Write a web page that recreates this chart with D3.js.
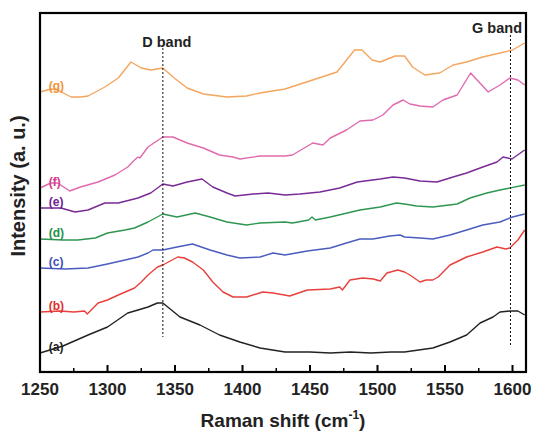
<!DOCTYPE html>
<html>
<head>
<meta charset="utf-8">
<script src="https://cdn.jsdelivr.net/npm/d3@7"></script>
<style>
  body { margin: 0; background: #fff; }
  text { font-family: "Liberation Sans", Arial, sans-serif; }
</style>
</head>
<body>
<div id="chart"></div>
<script>

// Raman spectra (a)-(g), stacked with offsets
var seriesNames = ["(a)", "(b)", "(c)", "(d)", "(e)", "(f)", "(g)"];
var seriesColors = ["#222222", "#e8403c", "#4a5cbf", "#2e9650", "#7a2a96", "#e06aae", "#f4a55e"];
var labelColors = ["#222222", "#e0302c", "#3d50b8", "#25904a", "#6e2290", "#d63c8a", "#f0923a"];

var shiftA = [1250, 1267, 1285.6, 1300, 1315, 1322.6, 1330, 1337, 1341, 1353.7, 1368.5, 1383, 1398, 1413, 1431.5, 1450, 1465, 1480, 1495, 1510, 1520, 1541, 1553.7, 1566, 1576, 1585.6, 1590.7, 1598, 1604, 1609];
var intA = [19, 26, 37, 45, 59, 62, 65, 69, 69, 55, 47, 37, 30, 24, 20, 20, 19, 20, 19, 20, 20, 24, 30, 37, 49, 55, 60, 61, 61, 57];

var shiftB = [1250, 1265, 1275, 1283, 1285, 1293, 1300, 1308, 1320, 1325, 1330, 1337, 1341, 1352, 1357, 1363, 1371, 1378, 1385.6, 1393, 1403, 1415, 1422.6, 1431, 1435, 1448, 1465, 1472, 1474, 1479.6, 1489, 1497, 1502, 1507, 1515, 1520, 1524, 1531.5, 1536, 1541, 1545, 1553.7, 1566, 1578, 1588.5, 1595, 1598, 1604, 1609];
var intB = [60, 61, 60, 61, 58, 69, 72, 77, 84, 90, 97, 105, 107, 115, 114, 110, 102, 90, 80, 75, 75, 80, 79, 77, 76, 82, 83, 85, 82, 92, 94, 93, 91, 99, 102, 100, 97, 90, 92, 92, 95, 107, 115, 120, 125, 123, 124, 132, 142];

var shiftC = [1250, 1268.5, 1285.6, 1300, 1313, 1322.6, 1330, 1333.7, 1341, 1351.5, 1363, 1376, 1388.5, 1398, 1413, 1422.6, 1431.5, 1448, 1465, 1477, 1487, 1496.7, 1509, 1516.7, 1520, 1531.5, 1541, 1553.7, 1566, 1578, 1590.7, 1600, 1609];
var intC = [104, 103, 104, 108, 112, 115, 119, 122, 122, 125, 128, 122, 117, 114, 115, 119, 117, 121, 124, 129, 133, 133, 136, 137, 135, 134, 133, 137, 142, 147, 150, 155, 158];

var shiftD = [1250, 1267, 1278, 1291, 1300, 1313, 1320, 1330, 1341, 1351.5, 1365, 1376, 1388.5, 1403, 1413, 1431.5, 1437, 1449, 1451.5, 1454, 1465, 1487, 1502, 1514, 1520, 1529, 1541, 1559, 1568.5, 1581, 1590.7, 1609];
var intD = [133, 132, 132, 134, 139, 142, 144, 150, 158, 155, 159, 155, 150, 147, 149, 150, 149, 152, 155, 152, 155, 162, 165, 169, 168, 166, 165, 168, 174, 179, 182, 187];

var shiftE = [1250, 1265.5, 1276, 1285.6, 1298, 1308, 1322.6, 1332, 1341, 1348.5, 1359, 1370, 1378, 1388.5, 1394.5, 1408, 1419, 1431.5, 1442.6, 1457.4, 1472, 1485, 1502, 1511.5, 1520, 1531.5, 1544, 1556, 1566, 1578, 1588.5, 1593, 1599.6, 1609];
var intE = [164, 164, 160, 162, 169, 169, 174, 179, 188, 186, 190, 193, 185, 179, 176, 178, 179, 177, 178, 180, 184, 190, 193, 195, 194, 191, 190, 195, 199, 205, 210, 215, 213, 222];

var shiftF = [1250, 1258, 1263, 1272, 1280, 1293, 1305.5, 1315, 1320, 1322.6, 1324, 1330, 1341, 1348.5, 1359, 1371, 1383, 1393, 1398, 1413, 1431.5, 1437, 1452, 1459.6, 1465, 1477, 1487, 1496.7, 1504, 1511.5, 1519, 1524, 1531.5, 1541, 1548.5, 1559, 1569, 1582, 1590.7, 1598, 1604, 1609];
var intF = [184, 189, 189, 181, 185, 190, 197, 205, 212, 215, 214, 225, 235, 235, 229, 224, 217, 215, 213, 216, 216, 217, 229, 227, 234, 242, 251, 252, 257, 267, 272, 268, 266, 265, 272, 277, 299, 280, 287, 294, 292, 287];

var shiftG = [1250, 1258, 1263, 1273, 1280, 1285.6, 1298, 1308, 1317.4, 1325, 1332, 1341, 1348.5, 1359, 1371, 1388.5, 1403, 1413, 1431.5, 1452, 1470, 1483, 1488.5, 1496, 1502, 1513, 1520, 1526, 1535, 1546, 1556, 1566, 1578, 1590.7, 1600, 1609];
var intG = [280, 283, 282, 275, 275, 276, 285, 294, 310, 304, 302, 304, 295, 284, 278, 275, 276, 279, 283, 292, 300, 322, 322, 312, 310, 316, 316, 305, 297, 299, 307, 310, 315, 319, 322, 329];

var shifts = [shiftA, shiftB, shiftC, shiftD, shiftE, shiftF, shiftG];
var intensities = [intA, intB, intC, intD, intE, intF, intG];

var xTicks = [1250, 1300, 1350, 1400, 1450, 1500, 1550, 1600];
var minorTicks = [1275, 1325, 1375, 1425, 1475, 1525, 1575];
var bandNames = ["D band", "G band"];
var bandShifts = [1341, 1598.5];

var width = 533, height = 431;
var margin = { top: 13, right: 7, bottom: 59, left: 40 };

var svg = d3.select("#chart").append("svg")
  .attr("width", width).attr("height", height);

var x = d3.scaleLinear().domain([1250, 1610]).range([margin.left, width - margin.right]);
var y = d3.scaleLinear().domain([0, 359]).range([height - margin.bottom, margin.top]);

var line = d3.line()
  .x(function(d) { return x(d[0]); })
  .y(function(d) { return y(d[1]); });

// spectra
for (var i = 0; i < seriesNames.length; i++) {
  var pts = d3.zip(shifts[i], intensities[i]);
  svg.append("path")
    .datum(pts)
    .attr("fill", "none")
    .attr("stroke", seriesColors[i])
    .attr("stroke-width", 1.4)
    .attr("stroke-linejoin", "round")
    .attr("d", line);

  svg.append("text")
    .attr("x", x(1256.5))
    .attr("y", y(intensities[i][0]) - 2)
    .attr("fill", labelColors[i])
    .attr("font-size", 12)
    .attr("font-weight", "bold")
    .text(seriesNames[i]);
}

// band markers
var bandTop = [y(324), y(337)];
var bandBottom = [y(35), y(27)];
for (var j = 0; j < bandNames.length; j++) {
  svg.append("line")
    .attr("x1", x(bandShifts[j])).attr("x2", x(bandShifts[j]))
    .attr("y1", bandTop[j]).attr("y2", bandBottom[j])
    .attr("stroke", "#111")
    .attr("stroke-width", 1)
    .attr("stroke-dasharray", "2,2");
}
svg.append("text")
  .attr("x", x(bandShifts[0]) + 4).attr("y", 47)
  .attr("text-anchor", "middle")
  .attr("font-size", 14.5).attr("font-weight", "bold").attr("fill", "#222")
  .text(bandNames[0]);
svg.append("text")
  .attr("x", 522).attr("y", 33)
  .attr("text-anchor", "end")
  .attr("font-size", 14.5).attr("font-weight", "bold").attr("fill", "#222")
  .text(bandNames[1]);

// x axis ticks (inward)
var axisY = height - margin.bottom;
svg.selectAll(".major").data(xTicks).enter().append("line")
  .attr("x1", function(d) { return x(d); }).attr("x2", function(d) { return x(d); })
  .attr("y1", axisY).attr("y2", axisY - 7)
  .attr("stroke", "#000").attr("stroke-width", 2);
svg.selectAll(".minor").data(minorTicks).enter().append("line")
  .attr("x1", function(d) { return x(d); }).attr("x2", function(d) { return x(d); })
  .attr("y1", axisY).attr("y2", axisY - 4)
  .attr("stroke", "#000").attr("stroke-width", 1.5);
svg.selectAll(".ticklabel").data(xTicks).enter().append("text")
  .attr("x", function(d) { return x(d); })
  .attr("y", axisY + 23)
  .attr("text-anchor", "middle")
  .attr("font-size", 17).attr("font-weight", "bold").attr("fill", "#222")
  .text(function(d) { return d; });

// frame
svg.append("rect")
  .attr("x", margin.left).attr("y", margin.top)
  .attr("width", width - margin.right - margin.left)
  .attr("height", height - margin.bottom - margin.top)
  .attr("fill", "none").attr("stroke", "#000").attr("stroke-width", 2.2);

// axis titles
var xt = svg.append("text")
  .attr("x", 283).attr("y", 427)
  .attr("text-anchor", "middle")
  .attr("font-size", 19).attr("font-weight", "bold").attr("fill", "#222");
xt.append("tspan").text("Raman shift (cm");
xt.append("tspan").attr("font-size", 12).attr("dy", -8).text("-1");
xt.append("tspan").attr("dy", 8).text(")");

svg.append("text")
  .attr("transform", "translate(25,186) rotate(-90)")
  .attr("text-anchor", "middle")
  .attr("font-size", 20).attr("font-weight", "bold").attr("fill", "#222")
  .text("Intensity (a. u.)");

</script>
</body>
</html>
